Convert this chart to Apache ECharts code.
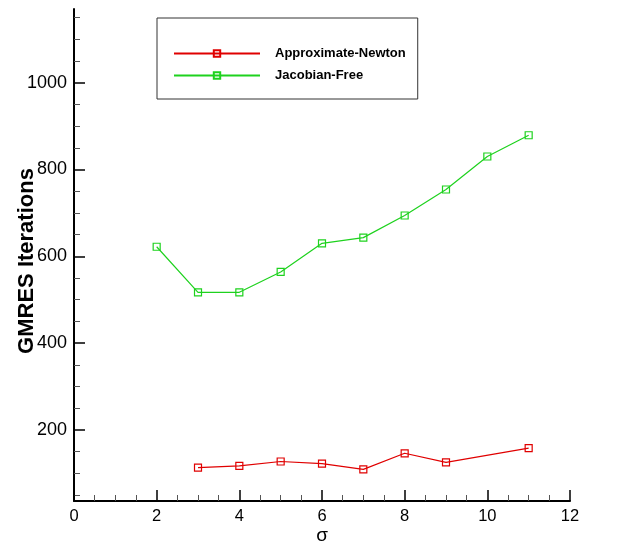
<!DOCTYPE html>
<html>
<head>
<meta charset="utf-8">
<script src="https://cdn.jsdelivr.net/npm/echarts@6/dist/echarts.min.js"></script>
<style>html,body{margin:0;padding:0;background:#fff;}#c{width:626px;height:548px;}</style>
</head>
<body>
<div id="c"></div>
<script>
var sigmaNewton = [3, 4, 5, 6, 7, 8, 9, 11];
var itersNewton = [113, 117, 127, 122, 109, 146, 125, 158];
var sigmaJF = [2, 3, 4, 5, 6, 7, 8, 9, 10, 11];
var itersJF = [622, 517, 517, 564, 630, 643, 694, 754, 830, 879];
var yMajorTicks = [200, 400, 600, 800, 1000];
var yMinorTicks = [50, 100, 150, 250, 300, 350, 450, 500, 550, 650, 700, 750, 850, 900, 950, 1050, 1100, 1150];

function pairs(xs, ys) { return xs.map(function (x, i) { return [x, ys[i]]; }); }

var chart = echarts.init(document.getElementById('c'));
var FONT = 'Liberation Sans, Arial, sans-serif';
chart.setOption({
  animation: false,
  backgroundColor: '#fff',
  grid: { left: 74, right: 56, top: 9, bottom: 47, containLabel: false, outerBoundsMode: 'none' },
  legend: {
    orient: 'vertical',
    left: 157, top: 18,
    padding: [29, 12, 17, 16],
    itemGap: 9,
    itemWidth: 86, itemHeight: 8,
    borderColor: '#333', borderWidth: 1,
    textStyle: { fontFamily: FONT, fontWeight: 'bold', fontSize: 13, color: '#000', padding: [0, 0, 0, 10] },
    data: ['Approximate-Newton', 'Jacobian-Free']
  },
  xAxis: {
    type: 'value', min: 0, max: 12, interval: 2,
    name: 'σ', nameLocation: 'middle', nameGap: 25, nameMoveOverlap: false,
    nameTextStyle: { fontFamily: FONT, fontSize: 19, color: '#000' },
    axisLine: { show: true, onZero: false, lineStyle: { color: '#000', width: 2 } },
    axisTick: { show: true, inside: true, length: 11, lineStyle: { color: '#000', width: 1.5 } },
    minorTick: { show: true, splitNumber: 4, length: 6, lineStyle: { color: '#555', width: 1 } },
    axisLabel: { fontFamily: FONT, fontSize: 16.5, color: '#000', margin: 7 },
    splitLine: { show: false }
  },
  yAxis: [{
    type: 'value', min: 36, max: 1170, position: 'left',
    name: 'GMRES Iterations', nameLocation: 'middle', nameGap: 36, nameMoveOverlap: false,
    nameTextStyle: { fontFamily: FONT, fontWeight: 'bold', fontSize: 22, color: '#000', padding: [0, 12, 0, 0] },
    axisLine: { show: true, onZero: false, lineStyle: { color: '#000', width: 2 } },
    axisTick: { show: true, inside: true, length: 11, customValues: yMajorTicks, lineStyle: { color: '#000', width: 1.5 } },
    axisLabel: { fontFamily: FONT, fontSize: 18, color: '#000', margin: 7, customValues: yMajorTicks,
      formatter: function (v) { return String(v); } },
    splitLine: { show: false }
  }, {
    type: 'value', min: 36, max: 1170, position: 'left',
    axisLine: { show: false, onZero: false },
    axisTick: { show: true, inside: true, length: 6, customValues: yMinorTicks, lineStyle: { color: '#555', width: 1 } },
    axisLabel: { show: false },
    splitLine: { show: false }
  }],
  series: [{
    name: 'Approximate-Newton', type: 'line', yAxisIndex: 0,
    data: pairs(sigmaNewton, itersNewton),
    symbol: 'rect', symbolSize: 7,
    lineStyle: { color: '#e00000', width: 1.2 },
    itemStyle: { color: 'rgba(255,255,255,0)', borderColor: '#e00000', borderWidth: 1.2 }
  }, {
    name: 'Jacobian-Free', type: 'line', yAxisIndex: 0,
    data: pairs(sigmaJF, itersJF),
    symbol: 'rect', symbolSize: 7,
    lineStyle: { color: '#1ed21e', width: 1.2 },
    itemStyle: { color: 'rgba(255,255,255,0)', borderColor: '#1ed21e', borderWidth: 1.2 }
  }]
});
</script>
</body>
</html>
